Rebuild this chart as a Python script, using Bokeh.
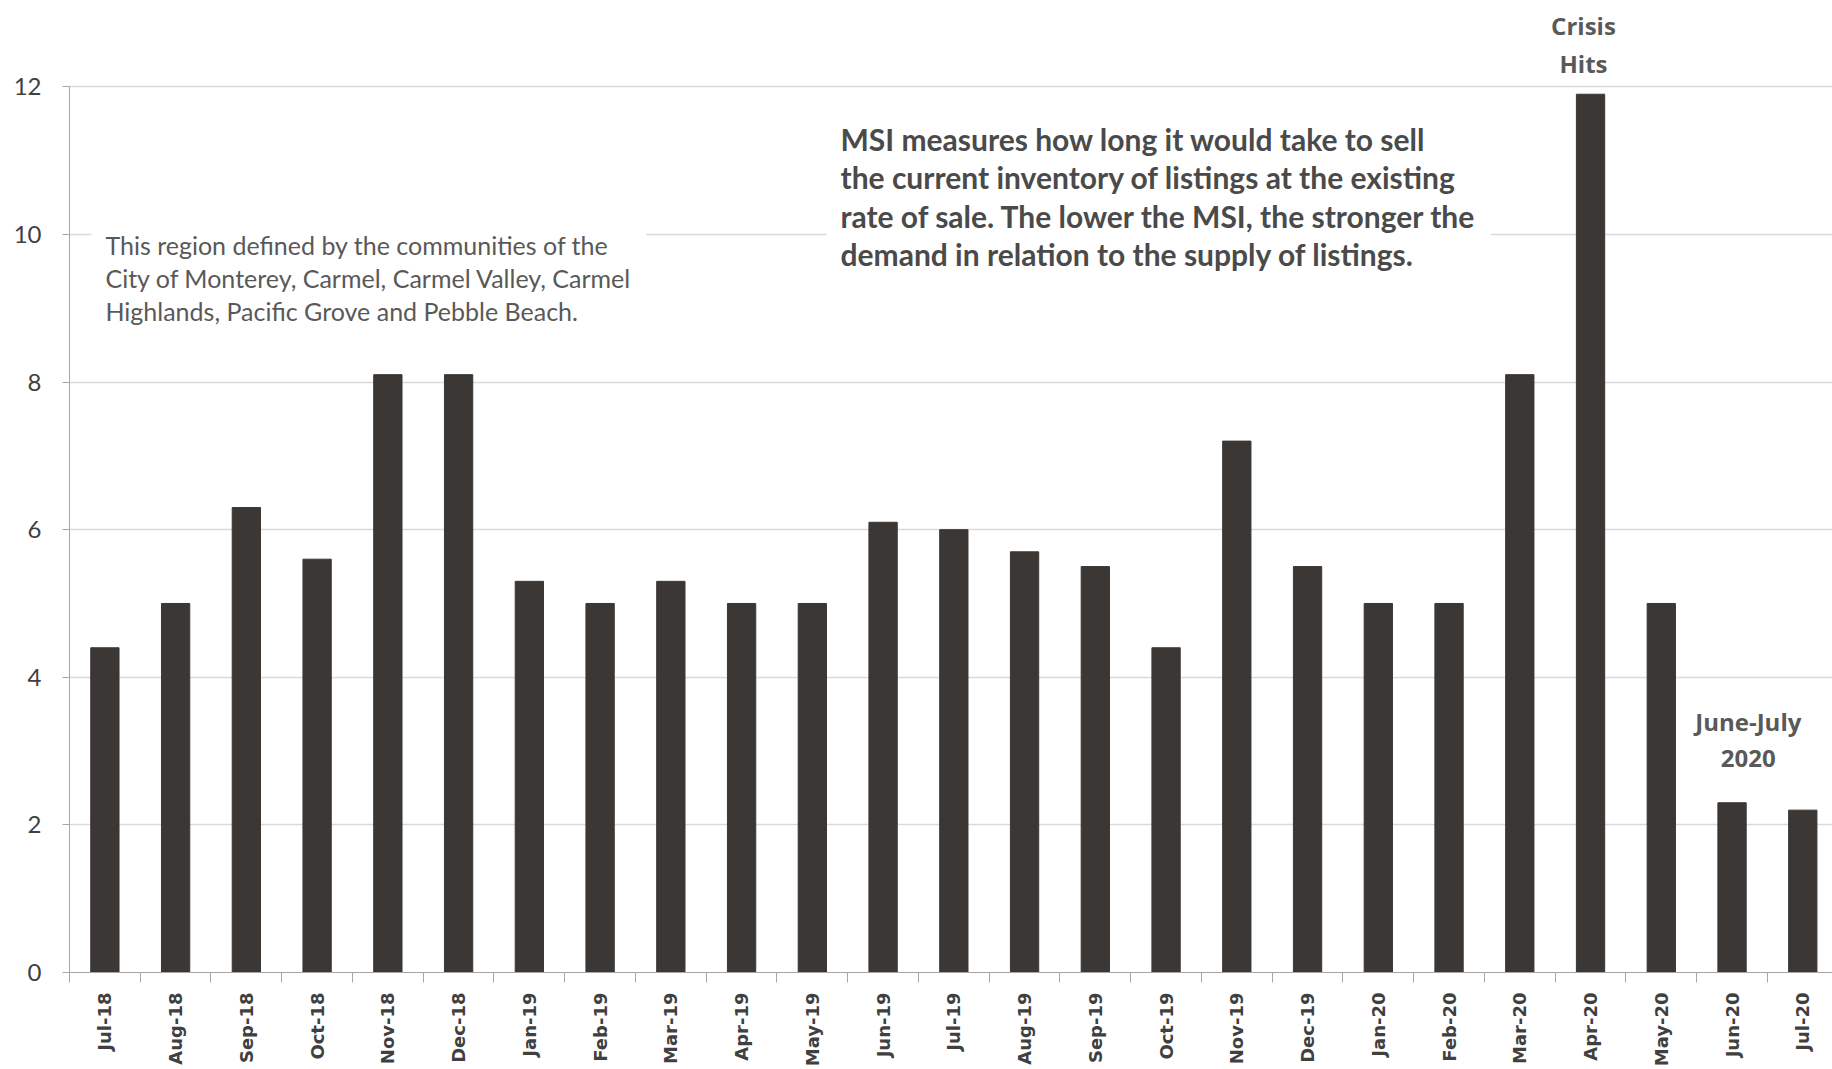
import math
from bokeh.plotting import figure
from bokeh.models import Range1d, FixedTicker, Label, ColumnDataSource
from bokeh.embed import file_html
from bokeh.resources import INLINE

months = ["Jul-18", "Aug-18", "Sep-18", "Oct-18", "Nov-18", "Dec-18",
          "Jan-19", "Feb-19", "Mar-19", "Apr-19", "May-19", "Jun-19",
          "Jul-19", "Aug-19", "Sep-19", "Oct-19", "Nov-19", "Dec-19",
          "Jan-20", "Feb-20", "Mar-20", "Apr-20", "May-20", "Jun-20", "Jul-20"]
msi = [4.4, 5.0, 6.3, 5.6, 8.1, 8.1,
       5.3, 5.0, 5.3, 5.0, 5.0, 6.1,
       6.0, 5.7, 5.5, 4.4, 7.2, 5.5,
       5.0, 5.0, 8.1, 11.9, 5.0, 2.3, 2.2]
y_ticks = [0, 2, 4, 6, 8, 10, 12]

n = len(months)
pos = list(range(n))
bounds = [i - 0.5 for i in range(n + 1)]

p = figure(width=1832, height=1069, output_backend="svg", toolbar_location=None,
           x_range=Range1d(-0.5, n - 0.58), y_range=Range1d(0, 13.17),
           min_border_left=69, min_border_right=0, min_border_top=0,
           min_border_bottom=97, background_fill_color="white")
p.outline_line_color = None

src = ColumnDataSource(dict(x=pos, month=months, msi=msi))
p.vbar(x="x", top="msi", width=0.4, source=src, fill_color="#3a3735",
       line_color="#3a3735")

# x axis
xa = p.xaxis[0]
xa.ticker = FixedTicker(ticks=pos, minor_ticks=bounds)
xa.major_label_overrides = {i: m for i, m in zip(pos, months)}
xa.axis_line_color = "#a6a6a6"
xa.major_tick_line_color = None
xa.major_tick_out = 0
xa.major_tick_in = 0
xa.minor_tick_line_color = "#a6a6a6"
xa.minor_tick_out = 10
xa.minor_tick_in = 0
xa.major_label_orientation = math.pi / 2
xa.major_label_standoff = 10
xa.major_label_text_font = "DejaVu Sans"
xa.major_label_text_font_style = "bold"
xa.major_label_text_font_size = "18px"
xa.major_label_text_color = "#404040"

# y axis
ya = p.yaxis[0]
ya.ticker = FixedTicker(ticks=y_ticks)
ya.bounds = (0, 12)
ya.axis_line_color = "#a6a6a6"
ya.major_tick_line_color = "#a6a6a6"
ya.major_tick_out = 7
ya.major_tick_in = 0
ya.minor_tick_line_color = None
ya.major_label_standoff = 21
ya.major_label_text_font = "Lato"
ya.major_label_text_font_size = "24px"
ya.major_label_text_color = "#404040"

p.xgrid.visible = False
p.ygrid.ticker = FixedTicker(ticks=y_ticks)
p.ygrid.grid_line_color = "#d9d9d9"
p.ygrid.grid_line_width = 1.5

left_text = ("This region defined by the communities of the\n"
             "City of Monterey, Carmel, Carmel Valley, Carmel\n"
             "Highlands,  Pacific  Grove and Pebble Beach.")
p.add_layout(Label(x=-0.19, y=10.25, text=left_text, text_align="left",
                   text_baseline="top", text_font="Lato", text_font_size="25px",
                   text_color="#595959", text_line_height=1.1,
                   background_fill_color="white", padding=14))

msi_text = ("MSI measures how long it would take to sell\n"
            "the current inventory of listings at the existing\n"
            "rate of sale. The lower the MSI, the stronger the\n"
            "demand in relation to the supply of listings.")
p.add_layout(Label(x=10.20, y=11.73, text=msi_text, text_align="left",
                   text_baseline="top", text_font="Lato", text_font_style="bold",
                   text_font_size="30px", text_color="#4a4a4a",
                   text_line_height=1.07, background_fill_color="white",
                   padding=14))

for txt, yy in [("Crisis", 12.83), ("Hits", 12.31)]:
    p.add_layout(Label(x=20.9, y=yy, text=txt, text_align="center",
                       text_baseline="middle", text_font="Open Sans",
                       text_font_style="bold", text_font_size="24px",
                       text_color="#595959"))
for txt, yy in [("June-July", 3.40), ("2020", 2.90)]:
    p.add_layout(Label(x=23.23, y=yy, text=txt, text_align="center",
                       text_baseline="middle", text_font="Open Sans",
                       text_font_style="bold", text_font_size="24px",
                       text_color="#595959"))

open("out.html", "w").write(file_html(p, INLINE))
